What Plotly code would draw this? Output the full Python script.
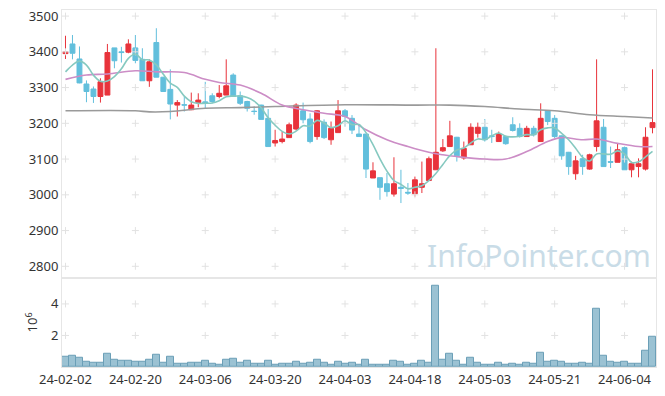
import plotly.graph_objects as go
import pandas as pd

dates = [
    "24-02-02", "24-02-05", "24-02-06", "24-02-07", "24-02-08", "24-02-13", "24-02-14", "24-02-15",
    "24-02-16", "24-02-19", "24-02-20", "24-02-21", "24-02-22", "24-02-23", "24-02-26", "24-02-27",
    "24-02-28", "24-02-29",
    "24-03-04", "24-03-05", "24-03-06", "24-03-07", "24-03-08", "24-03-11", "24-03-12", "24-03-13",
    "24-03-14", "24-03-15", "24-03-18", "24-03-19", "24-03-20", "24-03-21", "24-03-22", "24-03-25",
    "24-03-26", "24-03-27", "24-03-28", "24-03-29",
    "24-04-01", "24-04-02", "24-04-03", "24-04-04", "24-04-05", "24-04-08", "24-04-09", "24-04-11",
    "24-04-12", "24-04-15", "24-04-16", "24-04-17", "24-04-18", "24-04-19", "24-04-22", "24-04-23",
    "24-04-24", "24-04-25", "24-04-26", "24-04-29", "24-04-30",
    "24-05-02", "24-05-03", "24-05-07", "24-05-08", "24-05-09", "24-05-10", "24-05-13", "24-05-14",
    "24-05-16", "24-05-17", "24-05-20", "24-05-21", "24-05-22", "24-05-23", "24-05-24", "24-05-27",
    "24-05-28", "24-05-29", "24-05-30", "24-05-31",
    "24-06-03", "24-06-04", "24-06-05", "24-06-07", "24-06-10", "24-06-11",
]

opens = [3395, 3422, 3380, 3310, 3296, 3275, 3279, 3411, 3400, 3399,
         3411, 3379, 3319, 3426, 3329, 3295, 3251, 3252, 3238, 3258,
         3260, 3277, 3275, 3279, 3335, 3277, 3261, 3234, 3251, 3214,
         3145, 3149, 3160, 3184, 3235, 3212, 3163, 3203, 3154, 3174,
         3235, 3214, 3170, 3170, 3047, 3048, 3031, 3002, 3021, 3007,
         3003, 3021, 3040, 3070, 3123, 3135, 3161, 3103, 3140, 3172,
         3189, 3165, 3149, 3163, 3196, 3186, 3163, 3186, 3149, 3235,
         3214, 3165, 3119, 3059, 3101, 3072, 3135, 3189, 3093, 3091,
         3132, 3070, 3079, 3072, 3188]
highs = [3445, 3447, 3415, 3320, 3303, 3326, 3422, 3411, 3414, 3435,
         3447, 3410, 3379, 3466, 3330, 3351, 3265, 3275, 3286, 3284,
         3316, 3284, 3307, 3379, 3340, 3289, 3263, 3247, 3252, 3240,
         3182, 3177, 3202, 3256, 3258, 3228, 3237, 3211, 3205, 3265,
         3240, 3223, 3196, 3170, 3091, 3048, 3061, 3105, 3070, 3033,
         3051, 3093, 3107, 3410, 3156, 3207, 3162, 3149, 3200, 3202,
         3212, 3182, 3177, 3166, 3217, 3200, 3193, 3193, 3256, 3237,
         3223, 3166, 3120, 3109, 3112, 3115, 3379, 3212, 3135, 3144,
         3135, 3093, 3102, 3189, 3351]
lows = [3380, 3379, 3312, 3259, 3257, 3258, 3279, 3354, 3370, 3396,
        3368, 3319, 3302, 3329, 3289, 3211, 3219, 3233, 3237, 3245,
        3242, 3256, 3270, 3279, 3275, 3251, 3233, 3224, 3211, 3135,
        3135, 3144, 3160, 3180, 3200, 3144, 3154, 3156, 3140, 3174,
        3191, 3170, 3163, 3047, 3047, 2986, 2995, 2995, 2977, 3000,
        2995, 3005, 3040, 3070, 3120, 3135, 3093, 3098, 3140, 3160,
        3149, 3145, 3149, 3140, 3177, 3160, 3163, 3163, 3149, 3195,
        3158, 3098, 3056, 3042, 3056, 3070, 3121, 3079, 3075, 3091,
        3070, 3049, 3049, 3068, 3172]
closes = [3400, 3396, 3313, 3289, 3275, 3316, 3398, 3375, 3398, 3422,
          3376, 3319, 3372, 3329, 3289, 3254, 3258, 3251, 3251, 3265,
          3256, 3261, 3284, 3305, 3275, 3256, 3242, 3233, 3211, 3135,
          3152, 3156, 3196, 3251, 3210, 3149, 3235, 3160, 3186, 3235,
          3219, 3181, 3163, 3072, 3067, 3021, 3009, 3031, 3018, 3005,
          3042, 3031, 3101, 3119, 3132, 3165, 3109, 3130, 3189, 3189,
          3154, 3163, 3170, 3143, 3180, 3163, 3186, 3168, 3214, 3205,
          3163, 3109, 3079, 3095, 3079, 3112, 3207, 3079, 3091, 3126,
          3070, 3087, 3087, 3161, 3202]

volume_m = [0.64, 0.71, 0.58, 0.33, 0.26, 0.26, 0.83, 0.47, 0.41, 0.41,
            0.35, 0.35, 0.47, 0.77, 0.28, 0.64, 0.20, 0.20, 0.26, 0.26,
            0.41, 0.20, 0.14, 0.47, 0.54, 0.26, 0.41, 0.20, 0.20, 0.41,
            0.14, 0.20, 0.20, 0.35, 0.20, 0.28, 0.47, 0.26, 0.14, 0.35,
            0.22, 0.28, 0.14, 0.47, 0.14, 0.14, 0.14, 0.41, 0.35, 0.14,
            0.22, 0.41, 0.28, 5.14, 0.47, 0.83, 0.41, 0.14, 0.58, 0.26,
            0.14, 0.14, 0.26, 0.14, 0.20, 0.14, 0.26, 0.20, 0.90, 0.35,
            0.41, 0.35, 0.20, 0.20, 0.26, 0.20, 3.67, 0.71, 0.35, 0.26,
            0.35, 0.20, 0.20, 1.04, 1.90]

# 5-day MA: first four values (they depend on earlier sessions)
ma5_head = [3344, 3363, 3374, 3363]

# 20-day MA at these session indices
ma20_idx = [0, 3, 6, 10, 13, 17, 20, 22, 25, 28, 31, 34, 37, 40, 43, 46, 49, 52, 54,
            56, 60, 63, 66, 69, 71, 74, 76, 79, 82, 84]
ma20_val = [3323, 3335, 3338, 3347, 3344, 3342, 3323, 3314, 3307, 3284, 3251, 3238, 3228,
            3219, 3182, 3154, 3135, 3119, 3112, 3107, 3100, 3100, 3121, 3149, 3160, 3154,
            3156, 3144, 3135, 3135]

# long-term MA
malong_idx = [0, 10, 12, 15, 20, 25, 30, 40, 50, 55, 60, 65, 70, 75, 80, 84]
malong_val = [3235, 3235, 3232, 3233, 3242, 3244, 3247, 3252, 3251, 3251, 3247, 3240,
              3235, 3224, 3219, 3215]

price_ticks = [2800, 2900, 3000, 3100, 3200, 3300, 3400, 3500]
vol_ticks = [2, 4]
xtick_step = 10

ma5 = pd.Series(closes).rolling(5).mean().tolist()
ma5[:len(ma5_head)] = ma5_head

RED = "#e8333b"
BLUE = "#62bfdc"
FONT = "Noto Sans"
TXT = "#333333"

fig = go.Figure()

xtick_vals = dates[::xtick_step]

# grid "+" marks
plus = dict(symbol="cross-thin", size=5, line=dict(color="#e2e2e2", width=1))
fig.add_trace(go.Scatter(
    x=[d for d in xtick_vals for _ in price_ticks],
    y=[p for _ in xtick_vals for p in price_ticks],
    mode="markers", xaxis="x", yaxis="y", hoverinfo="skip", marker=plus,
))
fig.add_trace(go.Scatter(
    x=[d for d in xtick_vals for _ in vol_ticks],
    y=[v for _ in xtick_vals for v in vol_ticks],
    mode="markers", xaxis="x2", yaxis="y2", hoverinfo="skip", marker=plus,
))

fig.add_trace(go.Scatter(
    x=[dates[i] for i in malong_idx], y=malong_val, mode="lines",
    line=dict(color="#9a9a9a", width=1.6, shape="spline"), xaxis="x", yaxis="y",
    hoverinfo="skip",
))
fig.add_trace(go.Scatter(
    x=[dates[i] for i in ma20_idx], y=ma20_val, mode="lines",
    line=dict(color="#cc8dc6", width=1.6, shape="spline"), xaxis="x", yaxis="y",
    hoverinfo="skip",
))
fig.add_trace(go.Scatter(
    x=dates, y=ma5, mode="lines",
    line=dict(color="#86c9c0", width=1.6, shape="spline", smoothing=1.0), xaxis="x", yaxis="y",
    hoverinfo="skip",
))

fig.add_trace(go.Candlestick(
    x=dates, open=opens, high=highs, low=lows, close=closes,
    increasing=dict(line=dict(color=RED, width=1), fillcolor=RED),
    decreasing=dict(line=dict(color=BLUE, width=1), fillcolor=BLUE),
    whiskerwidth=0, xaxis="x", yaxis="y",
))

fig.add_trace(go.Bar(
    x=dates, y=volume_m, xaxis="x2", yaxis="y2",
    marker=dict(color="#9bc2d3", line=dict(color="#6b9fb7", width=1)),
))

axis_line = dict(showline=True, linecolor="#e6e6e6", linewidth=1, mirror=True,
                 showgrid=False, zeroline=False, automargin=False,
                 ticklabeloverflow="allow")

# the page body adds an 8px offset, so the figure is sized to fill the window from there
fig.update_layout(
    width=657, height=388,
    margin=dict(l=54, r=9, t=2, b=29),
    paper_bgcolor="white", plot_bgcolor="white",
    showlegend=False, hovermode=False,
    bargap=0, boxgap=0.3, boxgroupgap=0,
    font=dict(family=FONT, size=13, color=TXT),
    xaxis=dict(type="category", categoryorder="array", categoryarray=dates,
               range=[-0.5, len(dates) - 0.5], domain=[0, 1], anchor="y",
               showticklabels=False, rangeslider=dict(visible=False),
               tickvals=xtick_vals, ticks="", **axis_line),
    xaxis2=dict(type="category", categoryorder="array", categoryarray=dates,
                range=[-0.5, len(dates) - 0.5], domain=[0, 1], anchor="y2",
                matches="x", tickvals=xtick_vals, ticktext=xtick_vals, ticks="",
                tickfont=dict(size=13, color=TXT), **axis_line),
    yaxis=dict(domain=[0.25, 1], range=[2768, 3517], tickvals=price_ticks, ticks="",
               tickfont=dict(size=13, color=TXT), anchor="x", **axis_line),
    yaxis2=dict(domain=[0, 0.25], range=[0, 5.66], tickvals=vol_ticks, ticks="",
                tickfont=dict(size=13, color=TXT), anchor="x2", **axis_line),
    annotations=[
        dict(text="InfoPointer.com", xref="paper", yref="paper", x=0.803, y=0.312,
             xanchor="center", yanchor="middle", showarrow=False,
             font=dict(family=FONT, size=30, color="#c9dce7")),
        dict(text="10<sup>6</sup>", xref="paper", yref="paper", x=-0.052, y=0.125,
             xanchor="center", yanchor="middle", showarrow=False, textangle=-90,
             font=dict(family=FONT, size=13, color=TXT)),
    ],
)

fig.write_html("out.html")
